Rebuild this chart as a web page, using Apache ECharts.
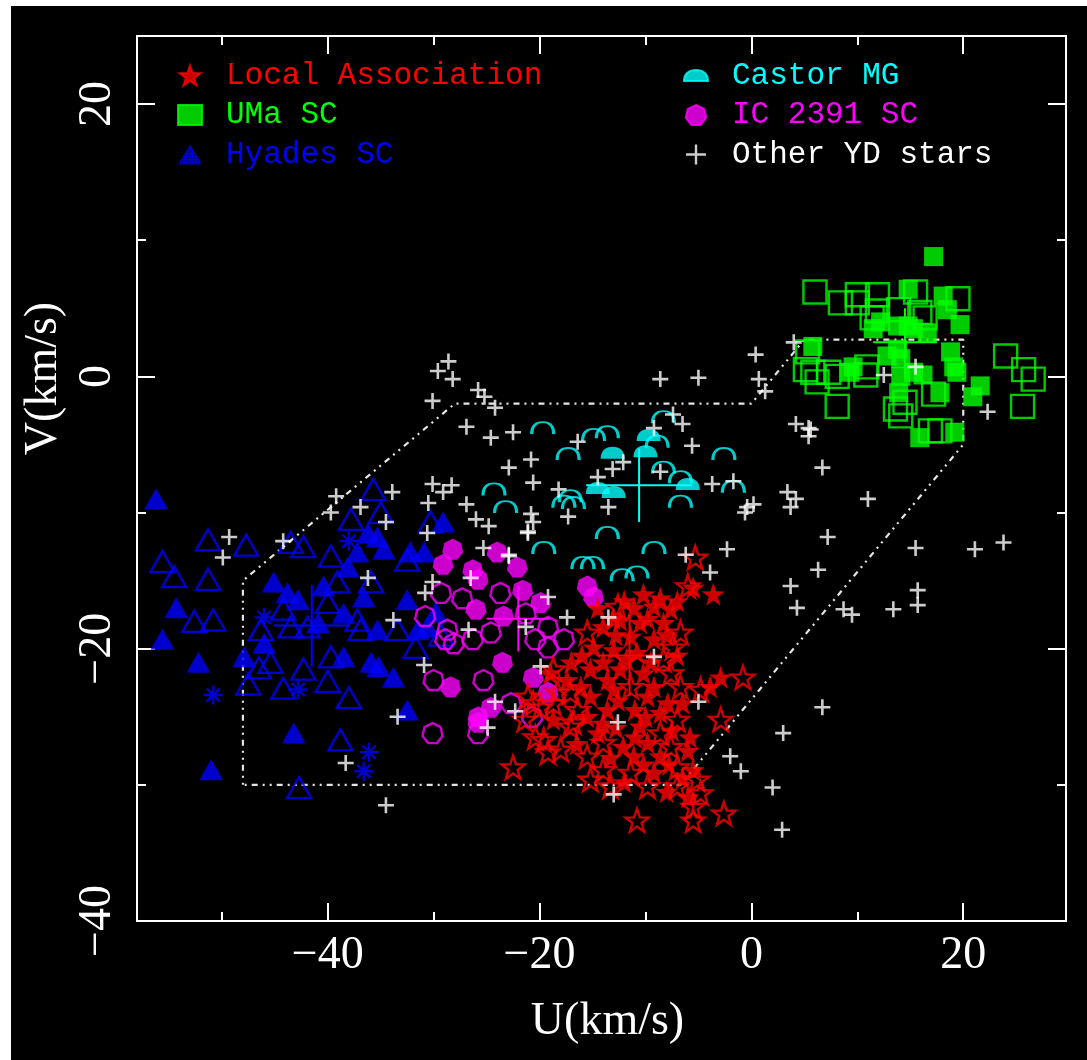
<!DOCTYPE html>
<html><head><meta charset="utf-8">
<script src="https://cdn.jsdelivr.net/npm/echarts@6/dist/echarts.min.js"></script>
<style>html,body{margin:0;padding:0;background:#fff;width:1087px;height:1060px;overflow:hidden}
#c{position:absolute;left:11px;top:6px;width:1076px;height:1054px;background:#000}</style>
</head><body><div id="c"></div><script>
// ---------------- data (U, V in km/s) ----------------
const xMajorTicks = [-40, -20, 0, 20];
const xMinorTicks = [-50, -30, -10, 10];
const yMajorTicks = [-40, -20, 0, 20];
const yMinorTicks = [-30, -10, 10];

const localAssocFilled = [[-10.2,-16.0],[-8.6,-16.3],[-7.0,-16.5],[-9.2,-16.9],[-11.1,-17.0],[-7.6,-17.1],[-10.5,-18.1],[-8.3,-18.1],[-12.4,-17.9],[-14.0,-18.4],[-11.4,-19.1],[-9.2,-19.3],[-14.9,-19.9],[-13.0,-20.1],[-10.8,-20.3],[-14.0,-21.0],[-15.2,-21.5],[-12.4,-21.5],[-10.2,-21.8],[-13.6,-22.3],[-16.1,-22.8],[-9.2,-22.8],[-15.2,-23.5],[-12.6,-23.8],[-9.8,-23.5],[-7.9,-24.0],[-13.6,-24.5],[-8.6,-24.7],[-14.5,-26.2],[-10.5,-25.7],[-12.1,-27.2],[-9.8,-26.9],[-11.1,-27.9],[-8.6,-27.9],[-9.2,-29.1],[-5.5,-28.9],[-6.0,-30.9],[-3.9,-22.8],[-2.9,-22.1],[-19.0,-21.8],[-17.4,-22.3],[-18.7,-25.2],[-5.5,-15.5],[-3.6,-16.0],
[-12.0,-16.5],[-9.8,-17.8],[-8.0,-19.0],[-12.8,-19.0],[-11.8,-20.8],[-9.5,-21.0],[-7.0,-20.5],[-13.0,-23.0],[-11.0,-24.5],[-10.0,-25.0],[-7.5,-26.0],[-12.8,-25.8],[-11.0,-26.5],[-13.3,-28.0],[-10.2,-28.5],[-7.8,-28.5],[-6.5,-29.5],[-8.0,-30.5],[-6.0,-27.5],[-16.0,-20.5],[-17.0,-21.0],[-15.5,-25.0],[-14.0,-25.5],[-16.5,-27.0],[-12.0,-29.8],[-6.5,-24.0],[-5.8,-26.5],[-14.5,-17.0],[-13.0,-17.8]];
const localAssocOpen = [[-5.3,-13.3],[-6.0,-15.4],[-12.6,-16.9],[-15.5,-18.8],[-6.7,-18.8],[-7.4,-19.9],[-8.3,-20.8],[-7.6,-21.8],[-11.4,-22.8],[-6.7,-22.8],[-17.1,-23.2],[-18.7,-24.0],[-16.4,-24.5],[-7.0,-25.2],[-16.8,-25.4],[-8.6,-26.2],[-14.0,-26.9],[-7.6,-27.2],[-15.5,-27.9],[-7.0,-28.7],[-14.0,-28.9],[-11.4,-29.1],[-5.1,-29.6],[-7.0,-30.1],[-4.8,-30.6],[-5.5,-31.6],[-5.5,-32.6],[-2.6,-32.1],[-10.8,-32.6],[-15.2,-29.6],[-13.3,-30.1],[-9.8,-30.1],[-2.9,-25.2],[-0.8,-22.1],[-4.8,-23.0],[-18.0,-27.4],[-19.2,-27.6],[-20.4,-26.5],[-21.1,-23.5],[-18.7,-21.5],[-21.4,-25.2],[-17.1,-25.7],[-18.3,-23.2],[-19.9,-24.3],[-19.6,-26.7],[-22.5,-28.7],[-20.6,-24.0]];

const umaFilled = [[17.2,8.8],[14.8,6.4],[18.1,5.9],[18.5,4.9],[19.7,3.8],[12.2,4.0],[13.8,3.7],[15.3,3.5],[11.5,3.5],[16.6,3.2],[5.8,2.2],[13.8,2.0],[14.1,1.3],[18.8,1.8],[19.1,0.7],[9.6,0.7],[14.1,0.0],[15.3,0.3],[16.2,0.1],[19.4,0.3],[13.9,-1.2],[17.8,-1.2],[21.6,-0.7],[20.9,-1.5],[15.9,-4.5],[19.2,-4.1],[9.3,0.3],[12.8,1.5],[14.8,3.7]];
const umaOpen = [[6.0,6.2],[8.4,5.4],[10.0,6.0],[10.0,5.4],[11.9,6.0],[11.9,4.8],[13.9,4.9],[15.5,6.2],[15.9,4.7],[16.4,4.3],[19.5,5.7],[11.4,4.3],[5.1,0.5],[5.8,0.3],[7.3,0.3],[8.1,0.0],[6.2,-0.4],[8.1,-2.2],[10.9,0.7],[10.8,0.1],[17.2,-1.3],[13.6,-2.4],[14.5,-1.9],[14.1,-2.9],[16.9,-4.0],[17.8,-4.0],[24.0,1.5],[25.7,0.5],[26.6,-0.2],[25.6,-2.2],[5.3,1.8]];

const hyadesFilled = [[-56.2,-9.0],[-54.3,-17.0],[-55.6,-19.3],[-52.2,-21.0],[-51.0,-28.9],[-43.2,-26.2],[-32.5,-24.5],[-35.9,-21.0],[-33.8,-22.1],[-46.0,-19.6],[-45.1,-15.1],[-43.8,-15.9],[-42.8,-16.4],[-40.9,-18.1],[-40.4,-15.4],[-38.5,-17.4],[-38.1,-14.0],[-37.2,-12.9],[-35.3,-11.8],[-36.2,-11.5],[-34.7,-12.7],[-36.6,-16.2],[-35.3,-18.6],[-38.5,-20.6],[-32.5,-16.4],[-31.5,-18.6],[-30.6,-18.4],[-32.2,-12.9],[-30.9,-12.9],[-29.1,-10.7],[-47.9,-20.6],[-35.2,-21.3],[-29.8,-17.3]];
const hyadesOpen = [[-51.3,-12.0],[-47.7,-12.4],[-55.6,-13.6],[-54.5,-14.7],[-51.3,-14.9],[-52.6,-18.0],[-50.8,-17.9],[-38.8,-26.7],[-42.7,-30.2],[-38.0,-23.6],[-40.0,-22.4],[-44.2,-22.9],[-42.3,-21.5],[-47.5,-22.6],[-46.5,-21.4],[-45.4,-21.0],[-46.3,-18.6],[-44.2,-17.1],[-43.5,-18.4],[-41.9,-18.4],[-39.1,-15.1],[-40.0,-16.6],[-39.7,-13.2],[-37.8,-10.5],[-35.7,-8.3],[-35.0,-10.0],[-35.9,-15.1],[-37.2,-17.9],[-36.9,-18.6],[-39.7,-20.6],[-31.7,-19.9],[-33.4,-18.6],[-32.5,-13.5],[-30.3,-10.7],[-43.5,-12.2],[-42.3,-12.5],[-29.3,-19.0]];
const hyadesAsterisk = [[-38.0,-12.1],[-46.0,-17.7],[-42.8,-23.0],[-50.8,-23.4],[-36.1,-27.6],[-36.6,-29.0]];

const castorFilled = [[-9.7,-4.3],[-13.1,-5.6],[-10.0,-5.5],[-14.5,-8.2],[-13.0,-8.5],[-6.0,-7.9]];
const castorOpen = [[-19.7,-3.8],[-17.3,-5.7],[-14.9,-4.3],[-13.6,-4.1],[-8.3,-3.0],[-8.9,-4.8],[-8.3,-6.7],[-6.7,-7.4],[-2.6,-5.7],[-1.7,-8.1],[-17.1,-8.8],[-16.8,-9.3],[-17.7,-9.2],[-23.2,-9.6],[-6.7,-9.2],[-13.6,-11.5],[-19.6,-12.6],[-9.2,-12.6],[-15.9,-13.7],[-15.0,-13.7],[-12.2,-14.6],[-10.8,-14.4],[-24.3,-8.3]];

const ic2391Filled = [[-28.2,-12.7],[-29.1,-13.8],[-26.3,-14.2],[-24.0,-12.9],[-22.1,-14.0],[-21.6,-15.7],[-25.8,-14.9],[-26.0,-17.1],[-23.4,-17.6],[-19.9,-16.6],[-15.5,-15.4],[-14.9,-16.2],[-23.5,-21.0],[-20.6,-22.1],[-19.2,-23.2],[-28.4,-22.8],[-25.8,-25.0],[-24.6,-24.3],[-25.8,-25.4]];
const ic2391Open = [[-23.7,-15.9],[-29.3,-15.9],[-27.3,-16.3],[-30.8,-17.6],[-28.7,-18.6],[-28.1,-19.6],[-26.3,-19.3],[-24.6,-18.8],[-21.3,-17.4],[-19.2,-18.4],[-20.4,-19.3],[-19.2,-19.9],[-17.7,-19.3],[-30.0,-22.3],[-25.3,-22.3],[-22.7,-24.0],[-20.7,-25.0],[-30.1,-26.2],[-25.8,-26.2],[-28.9,-19.3]];

const otherYD = [[-28.6,1.1],[-29.6,0.4],[-28.2,-0.2],[-25.8,-1.0],[-25.2,-1.5],[-30.1,-1.8],[-24.2,-2.3],[-26.9,-3.7],[-24.6,-4.5],
[-22.5,-4.1],[-16.4,-4.8],[-20.8,-6.1],[-22.9,-6.7],[-20.6,-7.8],[-18.2,-8.3],[-20.8,-10.1],[-21.1,-11.4],[-17.3,-10.3],[-14.5,-7.4],[-13.1,-6.8],[-12.1,-6.3],[-7.4,-2.8],[-6.5,-3.5],[-5.6,-5.1],[-9.2,-3.8],[-8.6,-7.0],[-13.5,-9.6],[-3.7,-7.9],[-1.7,-7.7],[-0.4,-9.6],[0.2,-9.4],[-2.3,-12.7],[-6.2,-13.1],[-22.9,-13.1],
[-8.6,-0.2],[-5.0,-0.1],
[0.4,1.6],[0.7,-0.2],[1.3,-1.1],[4.0,2.5],[4.2,-3.5],[5.4,-3.8],[5.4,-4.4],[12.5,0.1],[15.5,0.7],[22.3,-2.6],
[5.6,-3.9],[6.7,-6.7],[3.4,-8.5],[4.2,-9.0],[3.7,-9.6],[-0.6,-10.0],[11.0,-9.0],[7.2,-11.8],[6.3,-14.2],[3.7,-15.4],[4.3,-17.0],[8.7,-17.1],[9.5,-17.5],[13.4,-17.1],[15.5,-12.6],[15.7,-15.7],[15.7,-16.8],[21.1,-12.7],[23.8,-12.2],[6.7,-24.3],[3.0,-26.2],[-1.0,-29.0],[2.0,-30.2],[2.9,-33.3],
[-3.9,-14.4],[-13.5,-17.7],[-17.4,-17.7],[-19.2,-16.2],[-21.3,-18.4],[-19.9,-21.3],[-9.2,-20.6],[-5.0,-23.9],[-12.6,-25.4],[-13.0,-30.7],[-2.0,-27.9],
[-30.6,-11.5],[-24.8,-11.0],[-21.1,-11.5],[-20.6,-10.7],[-25.3,-12.6],[-22.9,-13.2],[-26.5,-14.8],[-30.1,-15.1],[-30.8,-15.9],[-26.7,-18.6],[-30.9,-21.2],[-24.2,-23.9],[-22.3,-24.6],[-24.9,-25.8],
[-39.2,-8.8],[-39.7,-10.0],[-36.9,-9.6],[-33.9,-8.5],[-34.5,-10.7],[-49.3,-11.8],[-49.9,-13.3],[-44.2,-12.1],[-36.2,-14.8],[-33.8,-17.9],[-33.4,-25.0],[-38.3,-28.4],[-34.5,-31.5],[-30.1,-7.9],[-30.5,-9.3],[-29.1,-8.5],
[-28.3,-8.0],[-26.0,-10.5],[-26.9,-9.4]];

// young-disk boundary (dotted)
const boundary = [[-48,-30],[-48,-15],[-28,-2],[0,-2],[5,2.7],[20,2.7],[20,-5],[-6.7,-30],[-48,-30]];

// mean +/- dispersion crosses: Hyades, IC 2391, Castor, Local Assoc., UMa
const crossMeans = [[-41.5,-18.3],[-22.0,-17.8],[-10.6,-8.0],[-11.5,-20.5],[14.5,2.5]];
const crossErrs  = [[3.6,3.0],[3.0,2.4],[5.0,2.7],[3.0,3.0],[3.0,2.5]];
const crossColors = ['#0000ff','#ff00ff','#00ffff','#ff0000','#00ff00'];

// ---------------- symbols ----------------
const starPath = 'path://M10,0 L12.35,6.76 L19.51,6.91 L13.8,11.24 L15.88,18.09 L10,14 L4.12,18.09 L6.2,11.24 L0.49,6.91 L7.65,6.76 Z';
const heptPath = 'path://M10,0 L17.82,3.77 L19.75,12.22 L14.34,19.01 L5.66,19.01 L0.25,12.22 L2.18,3.77 Z';
const domePath = 'path://M0,10 C0,4 4,1 10,1 C16,1 20,4 20,10 Z';
const arcPath = 'path://M0,10 C0,3 4,0 10,0 C16,0 20,3 20,10';
const plusPath = 'path://M0,8 L16,8 M8,0 L8,16';
const astPath = 'path://M10,0 L10,20 M0,10 L20,10 M3,3 L17,17 M17,3 L3,17';

const pc = document.createElement('canvas'); pc.width = 3; pc.height = 3;
const pctx = pc.getContext('2d'); pctx.fillStyle = '#0000ff'; pctx.fillRect(0,0,3,3);
pctx.fillStyle = '#000'; pctx.fillRect(1,1,1,1);
const stipple = {image: pc, repeat: 'repeat'};

const RED='#ff0000', GREEN='#00ff00', BLUE='#0000ff', CYAN='#00ffff', MAG='#ff00ff', WHITE='#ffffff';
const serif = 'Liberation Serif';
const mono = 'Liberation Mono';
const fmt = v => String(v).replace('-', '\u2212');

const chart = echarts.init(document.getElementById('c'), null, {renderer:'canvas'});
const gridRect = {left:126, right:21, top:30, bottom:139};

function tickAxis(dim, pos, gridIndex, ticks, len, labels, extra) {
  return {
    type:'value', gridIndex, position:pos,
    min: dim==='x' ? -58 : -40, max: dim==='x' ? 29.7 : 25,
    axisLine:{show:true, onZero:false, lineStyle:{color:WHITE, width:2}},
    axisTick:{show:true, inside:true, length:len, customValues:ticks, lineStyle:{color:WHITE, width:2}},
    axisLabel: labels ? Object.assign({show:true, customValues:labels, formatter:fmt, color:WHITE,
      fontFamily:serif, fontSize:46, showMinLabel:true, showMaxLabel:true}, extra||{}) : {show:false},
    splitLine:{show:false}, minorTick:{show:false}
  };
}

const xAxes = [
  Object.assign(tickAxis('x','bottom',0,xMajorTicks,18,xMajorTicks,{margin:12}),
    {name:'U(km/s)', nameLocation:'middle', nameGap:78,
     nameTextStyle:{color:WHITE, fontFamily:serif, fontSize:46, padding:[0,0,0,12]}}),
  tickAxis('x','top',0,xMajorTicks,18,null),
  tickAxis('x','bottom',1,xMinorTicks,9,null),
  tickAxis('x','top',1,xMinorTicks,9,null)
];
const yAxes = [
  Object.assign(tickAxis('y','left',0,yMajorTicks,18,yMajorTicks,{rotate:90, margin:16}),
    {name:'V(km/s)', nameLocation:'middle', nameGap:68, nameRotate:90,
     nameTextStyle:{color:WHITE, fontFamily:serif, fontSize:46, padding:[0,0,0,200]}}),
  tickAxis('y','right',0,yMajorTicks,18,null),
  tickAxis('y','left',1,yMinorTicks,9,null),
  tickAxis('y','right',1,yMinorTicks,9,null)
];

function scat(name, data, symbol, size, style, z) {
  return {type:'scatter', name, data, symbol, symbolSize:size, xAxisIndex:0, yAxisIndex:0,
    itemStyle:style, z:z, silent:true, emphasis:{disabled:true}};
}
const hollow = (c, w) => ({color:'transparent', borderColor:c, borderWidth:w || 2.4});

const series = [
  {type:'line', name:'boundary', data:boundary, xAxisIndex:0, yAxisIndex:0, symbol:'none', z:1,
   lineStyle:{color:'#e6e6e6', width:2.2, type:[2,5,2,5,6,5]}, silent:true},
  scat('Hyades SC', hyadesFilled, 'triangle', [24,21], {color:stipple}, 2),
  scat('Hyades SC', hyadesOpen, 'triangle', [24,21], hollow(BLUE), 2),
  scat('Hyades SC', hyadesAsterisk, astPath, 19, hollow(BLUE), 2),
  scat('UMa SC', umaOpen, 'rect', 23, hollow(GREEN), 3),
  scat('UMa SC', umaFilled, 'rect', 19, {color:GREEN}, 3),
  scat('Castor MG', castorOpen, arcPath, [22,12], hollow(CYAN), 4),
  scat('Castor MG', castorFilled, domePath, [24,12], {color:CYAN}, 4),
  scat('IC 2391 SC', ic2391Open, heptPath, 20, hollow(MAG), 5),
  scat('IC 2391 SC', ic2391Filled, heptPath, 21, {color:MAG}, 5),
  scat('Local Association', localAssocOpen, starPath, 23, hollow(RED), 6),
  scat('Local Association', localAssocFilled, starPath, 23, {color:RED}, 6),
  scat('Other YD stars', otherYD, plusPath, 16, hollow(WHITE, 2.6), 8)
];
crossMeans.forEach((m, i) => {
  const e = crossErrs[i];
  series.push({type:'line', name:'cross'+i, xAxisIndex:0, yAxisIndex:0, symbol:'none', z:7, silent:true,
    connectNulls:false,
    data:[[m[0]-e[0], m[1]], [m[0]+e[0], m[1]], ['-','-'], [m[0], m[1]-e[1]], [m[0], m[1]+e[1]]],
    lineStyle:{color:crossColors[i], width:2}});
});

const legendBase = {orient:'vertical', top:54, itemWidth:24, itemHeight:20, itemGap:8.5, padding:0,
  selectedMode:false, textStyle:{fontFamily:mono, fontSize:31, lineHeight:30, padding:[0,0,0,19]}};
const legItem = (name, icon, itemStyle, color) => ({name, icon, itemStyle, textStyle:{color}});

chart.setOption({
  backgroundColor:'#000000',
  animation:false,
  grid:[Object.assign({}, gridRect), Object.assign({}, gridRect)],
  xAxis:xAxes, yAxis:yAxes,
  legend:[
    Object.assign({}, legendBase, {left:166, data:[
      legItem('Local Association', starPath, {color:RED}, RED),
      legItem('UMa SC', 'rect', {color:GREEN}, GREEN),
      legItem('Hyades SC', 'triangle', {color:stipple}, BLUE)
    ]}),
    Object.assign({}, legendBase, {left:672, data:[
      legItem('Castor MG', domePath, {color:CYAN}, CYAN),
      legItem('IC 2391 SC', heptPath, {color:MAG}, MAG),
      legItem('Other YD stars', plusPath, {color:'transparent', borderColor:WHITE, borderWidth:2.4}, WHITE)
    ]})
  ],
  series
});
</script></body></html>
